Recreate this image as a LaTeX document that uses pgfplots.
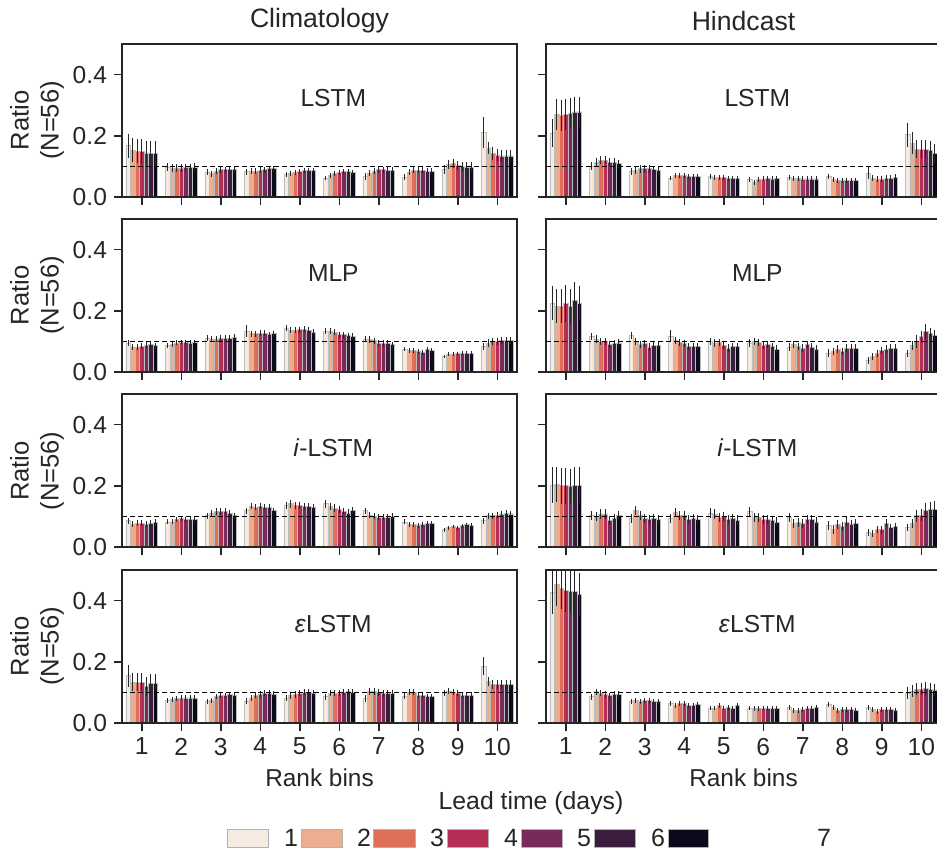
\documentclass[border=0pt]{standalone}
\usepackage{pgfplots}
\pgfplotsset{compat=1.18}
\usepackage{pgfplotstable}
\usepackage{fontspec}
\setmainfont{Liberation Sans}
\definecolor{c1}{HTML}{F6EBE1}
\definecolor{c2}{HTML}{EBAE8F}
\definecolor{c3}{HTML}{DF6F58}
\definecolor{c4}{HTML}{B42E55}
\definecolor{c5}{HTML}{782A5B}
\definecolor{c6}{HTML}{3B1E3D}
\definecolor{c7}{HTML}{0B0A1B}
\definecolor{tc}{HTML}{262626}
\definecolor{edgec}{HTML}{BDBDBD}

% Climatology LSTM
\pgfplotstableread{
x a b c d e f g ea eb ec ed ee ef eg
1 0.167 0.153 0.150 0.148 0.144 0.142 0.142 0.040 0.040 0.040 0.040 0.040 0.040 0.040
2 0.098 0.095 0.095 0.095 0.097 0.097 0.098 0.012 0.012 0.012 0.012 0.012 0.012 0.012
3 0.081 0.076 0.084 0.089 0.089 0.089 0.089 0.010 0.010 0.010 0.010 0.010 0.010 0.010
4 0.083 0.084 0.084 0.087 0.089 0.092 0.092 0.010 0.010 0.010 0.010 0.010 0.010 0.010
5 0.073 0.078 0.081 0.084 0.087 0.087 0.087 0.008 0.008 0.008 0.008 0.008 0.008 0.008
6 0.062 0.070 0.076 0.079 0.083 0.083 0.081 0.008 0.008 0.008 0.008 0.008 0.008 0.008
7 0.067 0.078 0.084 0.089 0.089 0.087 0.087 0.010 0.010 0.010 0.010 0.010 0.010 0.010
8 0.064 0.081 0.087 0.087 0.087 0.084 0.084 0.010 0.010 0.010 0.010 0.010 0.010 0.010
9 0.089 0.107 0.109 0.103 0.100 0.098 0.098 0.015 0.015 0.015 0.015 0.015 0.015 0.015
10 0.211 0.159 0.142 0.137 0.134 0.134 0.134 0.050 0.020 0.020 0.020 0.020 0.020 0.020
}\tA
% Hindcast LSTM
\pgfplotstableread{
x a b c d e f g ea eb ec ed ee ef eg
1 0.209 0.270 0.267 0.270 0.273 0.278 0.278 0.045 0.050 0.050 0.050 0.050 0.050 0.050
2 0.100 0.114 0.120 0.120 0.114 0.114 0.109 0.013 0.013 0.013 0.013 0.013 0.013 0.013
3 0.084 0.087 0.092 0.092 0.092 0.089 0.087 0.012 0.012 0.012 0.012 0.012 0.012 0.012
4 0.062 0.070 0.070 0.070 0.067 0.067 0.067 0.008 0.008 0.008 0.008 0.008 0.008 0.008
5 0.067 0.064 0.064 0.064 0.061 0.061 0.061 0.008 0.008 0.008 0.008 0.008 0.008 0.008
6 0.056 0.048 0.056 0.059 0.061 0.059 0.061 0.008 0.008 0.008 0.008 0.008 0.008 0.008
7 0.064 0.061 0.061 0.059 0.059 0.059 0.059 0.008 0.008 0.008 0.008 0.008 0.008 0.008
8 0.067 0.056 0.053 0.053 0.053 0.053 0.053 0.008 0.008 0.008 0.008 0.008 0.008 0.008
9 0.078 0.061 0.059 0.059 0.061 0.061 0.064 0.020 0.010 0.010 0.010 0.010 0.010 0.010
10 0.203 0.176 0.156 0.156 0.156 0.153 0.142 0.040 0.035 0.030 0.030 0.030 0.030 0.030
}\tB
% Climatology MLP
\pgfplotstableread{
x a b c d e f g ea eb ec ed ee ef eg
1 0.095 0.082 0.082 0.084 0.087 0.089 0.086 0.010 0.010 0.010 0.010 0.010 0.010 0.010
2 0.087 0.089 0.095 0.098 0.097 0.095 0.098 0.008 0.008 0.008 0.008 0.008 0.008 0.008
3 0.111 0.108 0.108 0.111 0.111 0.111 0.114 0.010 0.010 0.010 0.010 0.010 0.010 0.010
4 0.133 0.125 0.125 0.127 0.127 0.122 0.125 0.020 0.010 0.010 0.010 0.010 0.010 0.010
5 0.144 0.136 0.136 0.138 0.140 0.136 0.130 0.010 0.010 0.010 0.010 0.010 0.010 0.010
6 0.133 0.133 0.130 0.122 0.122 0.119 0.117 0.010 0.010 0.010 0.010 0.010 0.010 0.010
7 0.108 0.106 0.102 0.095 0.093 0.095 0.089 0.010 0.010 0.010 0.010 0.010 0.010 0.010
8 0.075 0.071 0.070 0.068 0.065 0.073 0.071 0.008 0.008 0.008 0.008 0.008 0.008 0.008
9 0.051 0.059 0.059 0.060 0.062 0.062 0.062 0.006 0.006 0.006 0.006 0.006 0.006 0.006
10 0.084 0.095 0.100 0.100 0.102 0.102 0.102 0.012 0.012 0.012 0.012 0.012 0.012 0.012
}\tC
% Hindcast MLP
\pgfplotstableread{
x a b c d e f g ea eb ec ed ee ef eg
1 0.225 0.215 0.215 0.223 0.215 0.234 0.225 0.056 0.055 0.055 0.060 0.055 0.060 0.055
2 0.117 0.108 0.100 0.100 0.089 0.093 0.095 0.012 0.012 0.012 0.012 0.012 0.012 0.012
3 0.119 0.100 0.089 0.093 0.082 0.086 0.086 0.012 0.012 0.012 0.012 0.012 0.012 0.012
4 0.117 0.102 0.097 0.093 0.084 0.084 0.084 0.020 0.012 0.012 0.012 0.012 0.012 0.012
5 0.100 0.095 0.097 0.086 0.078 0.084 0.084 0.012 0.012 0.012 0.012 0.012 0.012 0.012
6 0.095 0.100 0.097 0.086 0.089 0.084 0.075 0.012 0.012 0.012 0.012 0.012 0.012 0.012
7 0.082 0.089 0.084 0.078 0.089 0.082 0.075 0.012 0.012 0.012 0.012 0.012 0.012 0.012
8 0.062 0.068 0.075 0.068 0.078 0.078 0.078 0.012 0.012 0.012 0.012 0.012 0.012 0.012
9 0.038 0.051 0.060 0.071 0.075 0.078 0.078 0.012 0.012 0.012 0.012 0.012 0.012 0.012
10 0.060 0.086 0.100 0.115 0.133 0.125 0.118 0.012 0.015 0.020 0.020 0.025 0.020 0.020
}\tD
% Climatology i-LSTM
\pgfplotstableread{
x a b c d e f g ea eb ec ed ee ef eg
1 0.086 0.074 0.078 0.078 0.074 0.078 0.080 0.010 0.010 0.010 0.010 0.010 0.010 0.010
2 0.082 0.082 0.089 0.093 0.091 0.089 0.091 0.008 0.008 0.008 0.008 0.008 0.008 0.008
3 0.102 0.111 0.116 0.116 0.116 0.111 0.102 0.010 0.010 0.010 0.010 0.010 0.010 0.010
4 0.119 0.133 0.130 0.133 0.130 0.130 0.119 0.010 0.010 0.010 0.010 0.010 0.010 0.010
5 0.136 0.141 0.136 0.136 0.133 0.133 0.130 0.012 0.012 0.012 0.012 0.012 0.012 0.012
6 0.141 0.133 0.127 0.122 0.116 0.111 0.119 0.012 0.012 0.012 0.012 0.012 0.012 0.012
7 0.119 0.104 0.100 0.097 0.097 0.097 0.100 0.010 0.010 0.010 0.010 0.010 0.010 0.010
8 0.082 0.074 0.074 0.069 0.074 0.077 0.077 0.008 0.008 0.008 0.008 0.008 0.008 0.008
9 0.056 0.063 0.067 0.063 0.069 0.074 0.071 0.006 0.006 0.006 0.006 0.006 0.006 0.006
10 0.086 0.102 0.102 0.104 0.108 0.111 0.108 0.010 0.010 0.010 0.010 0.010 0.010 0.010
}\tE
% Hindcast i-LSTM
\pgfplotstableread{
x a b c d e f g ea eb ec ed ee ef eg
1 0.202 0.204 0.200 0.200 0.197 0.202 0.202 0.058 0.058 0.058 0.058 0.058 0.058 0.058
2 0.102 0.100 0.108 0.108 0.086 0.093 0.102 0.015 0.015 0.015 0.015 0.015 0.015 0.015
3 0.093 0.119 0.104 0.093 0.089 0.093 0.089 0.015 0.015 0.015 0.015 0.015 0.015 0.015
4 0.093 0.113 0.102 0.102 0.091 0.093 0.091 0.015 0.015 0.015 0.015 0.015 0.015 0.015
5 0.111 0.108 0.097 0.100 0.091 0.093 0.088 0.015 0.015 0.015 0.015 0.015 0.015 0.015
6 0.116 0.097 0.097 0.089 0.089 0.086 0.082 0.015 0.015 0.015 0.015 0.015 0.015 0.015
7 0.097 0.078 0.080 0.078 0.089 0.089 0.082 0.015 0.015 0.015 0.015 0.015 0.015 0.015
8 0.069 0.058 0.074 0.067 0.082 0.074 0.077 0.015 0.015 0.015 0.015 0.015 0.015 0.015
9 0.047 0.044 0.058 0.056 0.078 0.063 0.067 0.012 0.012 0.012 0.012 0.012 0.012 0.012
10 0.063 0.078 0.102 0.104 0.119 0.122 0.124 0.012 0.015 0.020 0.020 0.025 0.025 0.025
}\tF
% Climatology epsilon-LSTM
\pgfplotstableread{
x a b c d e f g ea eb ec ed ee ef eg
1 0.154 0.133 0.133 0.133 0.119 0.130 0.130 0.035 0.030 0.030 0.030 0.030 0.030 0.030
2 0.074 0.078 0.080 0.082 0.082 0.082 0.082 0.008 0.008 0.008 0.008 0.008 0.008 0.008
3 0.071 0.074 0.086 0.091 0.091 0.093 0.091 0.008 0.008 0.008 0.008 0.008 0.008 0.008
4 0.071 0.082 0.091 0.093 0.097 0.097 0.093 0.010 0.010 0.010 0.010 0.010 0.010 0.010
5 0.082 0.089 0.093 0.097 0.100 0.100 0.097 0.010 0.010 0.010 0.010 0.010 0.010 0.010
6 0.086 0.097 0.097 0.097 0.100 0.102 0.100 0.010 0.010 0.010 0.010 0.010 0.010 0.010
7 0.080 0.104 0.102 0.100 0.097 0.097 0.097 0.012 0.012 0.012 0.012 0.012 0.012 0.012
8 0.088 0.100 0.100 0.091 0.091 0.086 0.086 0.010 0.010 0.010 0.010 0.010 0.010 0.010
9 0.097 0.104 0.100 0.097 0.091 0.091 0.091 0.010 0.010 0.010 0.010 0.010 0.010 0.010
10 0.186 0.136 0.127 0.127 0.127 0.127 0.127 0.030 0.015 0.015 0.015 0.015 0.015 0.015
}\tG
% Hindcast epsilon-LSTM
\pgfplotstableread{
x a b c d e f g ea eb ec ed ee ef eg
1 0.427 0.452 0.441 0.433 0.430 0.430 0.419 0.072 0.070 0.070 0.070 0.070 0.070 0.070
2 0.086 0.102 0.097 0.093 0.089 0.093 0.093 0.010 0.010 0.010 0.010 0.010 0.010 0.010
3 0.069 0.074 0.069 0.074 0.074 0.071 0.069 0.008 0.008 0.008 0.008 0.008 0.008 0.008
4 0.063 0.058 0.063 0.063 0.058 0.058 0.060 0.008 0.008 0.008 0.008 0.008 0.008 0.008
5 0.049 0.049 0.058 0.049 0.052 0.049 0.056 0.008 0.008 0.008 0.008 0.008 0.008 0.008
6 0.049 0.047 0.047 0.049 0.049 0.049 0.047 0.008 0.008 0.008 0.008 0.008 0.008 0.008
7 0.052 0.041 0.041 0.044 0.049 0.047 0.052 0.008 0.008 0.008 0.008 0.008 0.008 0.008
8 0.060 0.052 0.041 0.044 0.044 0.044 0.041 0.008 0.008 0.008 0.008 0.008 0.008 0.008
9 0.052 0.044 0.038 0.044 0.044 0.044 0.041 0.008 0.008 0.008 0.008 0.008 0.008 0.008
10 0.097 0.104 0.111 0.111 0.113 0.111 0.108 0.020 0.020 0.020 0.020 0.020 0.020 0.020
}\tH

\pgfplotsset{
  panel/.style={
    anchor=south west, scale only axis, width=197.5pt, height=76.5pt,
    xmin=0.5, xmax=10.5, ymin=0, ymax=0.5,
    ybar=0pt, bar width=0.1143,
    xtick={1,2,3,4,5,6,7,8,9,10}, ytick={0,0.2,0.4},
    tick align=outside, xtick pos=bottom, ytick pos=left,
    major tick length=4pt,
    axis on top,
    axis line style={draw=tc, line width=0.75pt},
    every tick/.style={draw=tc, line width=0.75pt},
    tick label style={font=\fontsize{12.3}{14}\selectfont, text=tc},
    yticklabel={\pgfmathprintnumber[fixed,fixed zerofill,precision=1,assume math mode=true]{\tick}},
    xticklabel={\pgfmathprintnumber[int detect,assume math mode=true]{\tick}},
    error bars/y dir=both, error bars/y explicit,
    error bars/error mark=none,
    error bars/error bar style={draw=black!85, line width=0.55pt, solid},
  },
  noxl/.style={xticklabels={}},
  noyl/.style={yticklabels={}},
}

\newcommand{\panel}[4]{%
\begin{axis}[panel, at={#1}, #3]
\addplot[fill=c1, draw=edgec, line width=0.4pt] table[x=x,y=a,y error=ea]{#2};
\addplot[fill=c2, draw=edgec, line width=0.4pt] table[x=x,y=b,y error=eb]{#2};
\addplot[fill=c3, draw=edgec, line width=0.4pt] table[x=x,y=c,y error=ec]{#2};
\addplot[fill=c4, draw=edgec, line width=0.4pt] table[x=x,y=d,y error=ed]{#2};
\addplot[fill=c5, draw=edgec, line width=0.4pt] table[x=x,y=e,y error=ee]{#2};
\addplot[fill=c6, draw=edgec, line width=0.4pt] table[x=x,y=f,y error=ef]{#2};
\addplot[fill=c7, draw=edgec, line width=0.4pt] table[x=x,y=g,y error=eg]{#2};
\draw[black, line width=0.6pt, dash pattern=on 2.5pt off 1.5pt] (axis cs:0.5,0.1) -- (axis cs:10.5,0.1);
\node[font=\fontsize{12.3}{14}\selectfont, text=tc] at (rel axis cs:0.535,0.65) {#4};
\end{axis}}

\begin{document}
\begin{tikzpicture}
\useasboundingbox (0,0) rectangle (468.5pt,425.5pt);
\panel{(61pt,327pt)}{\tA}{noxl}{LSTM}
\panel{(273pt,327pt)}{\tB}{noxl,noyl}{LSTM}
\panel{(61pt,239.5pt)}{\tC}{noxl}{MLP}
\panel{(273pt,239.5pt)}{\tD}{noxl,noyl}{MLP}
\panel{(61pt,152pt)}{\tE}{noxl}{\textit{i}-LSTM}
\panel{(273pt,152pt)}{\tF}{noxl,noyl}{\textit{i}-LSTM}
\panel{(61pt,64pt)}{\tG}{}{\textit{ε}LSTM}
\panel{(273pt,64pt)}{\tH}{noyl}{\textit{ε}LSTM}

\begin{scope}[every node/.style={text=tc}]
\node[font=\fontsize{13.3}{15}\selectfont] at (159.75pt,415pt) {Climatology};
\node[font=\fontsize{13.3}{15}\selectfont] at (371.75pt,415pt) {Hindcast};
\foreach \yy in {365.25,277.75,190,102.25}{
  \node[rotate=90, align=center, font=\fontsize{12.8}{15}\selectfont] at (18.5pt,\yy pt) {Ratio\\(N=56)};
}
\node[font=\fontsize{12.2}{14}\selectfont] at (159.75pt,36.5pt) {Rank bins};
\node[font=\fontsize{12.2}{14}\selectfont] at (371.75pt,36.5pt) {Rank bins};
\node[font=\fontsize{12.4}{14}\selectfont] at (265.5pt,24pt) {Lead time (days)};
% legend
\foreach \xa/\xb/\cc in {113.5/134/c1,150.5/171/c2,186.5/207.5/c3,223.5/244/c4,260.5/281/c5,297/317.5/c6,334/354/c7}{
  \filldraw[fill=\cc, draw=black!30, line width=0.5pt] (\xa pt,1.5pt) rectangle (\xb pt,10.5pt);
}
\foreach \xx/\lab in {145.5/1,182/2,218.5/3,255.5/4,292/5,329/6,412/7}{
  \node[font=\fontsize{12.5}{14}\selectfont] at (\xx pt,6.5pt) {\lab};
}
\end{scope}
\end{tikzpicture}
\end{document}
